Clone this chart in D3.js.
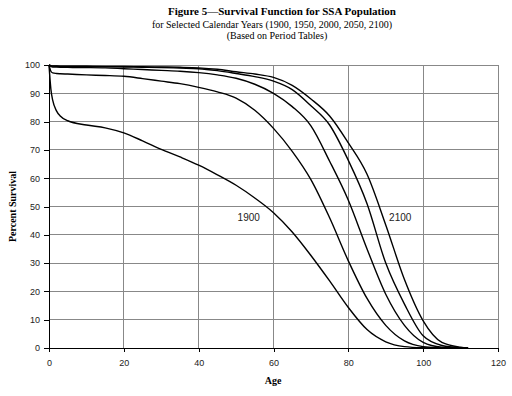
<!DOCTYPE html>
<html>
<head>
<meta charset="utf-8">
<script src="https://cdn.jsdelivr.net/npm/d3@7"></script>
<style>
   body { margin: 0; background: #fff; }
   svg { display: block; }
</style>
</head>
<body>
<div id="chart"></div>
<script>
// Ages sampled along the survival curves
const ages = [0, 0.5, 1, 2, 3, 5, 10, 15, 20, 25, 30, 35, 40, 45, 50, 55, 60, 65, 70, 75, 80, 85, 90, 95, 100, 105, 110, 112];

// Percent surviving at each age, one array per calendar year
const s1900 = [100, 91.5, 87.5, 83.8, 82, 80.3, 78.8, 77.8, 76, 73.2, 70.2, 67.5, 64.6, 61.2, 57.5, 53, 47.8, 41, 32.7, 23.7, 14.3, 6.5, 2.2, 0.5, 0.1, 0, 0, 0];
const s1950 = [100, 97.8, 97.2, 97, 96.9, 96.8, 96.5, 96.3, 96, 95.2, 94.3, 93.4, 92.1, 90.5, 88.3, 84, 77.6, 69.5, 59.5, 46, 30.8, 17.5, 8, 2.5, 0.5, 0.05, 0, 0];
const s2000 = [100, 99.5, 99.3, 99.25, 99.2, 99.15, 99.1, 99, 98.7, 98.4, 98.1, 97.8, 97.3, 96.5, 95.3, 93.2, 90, 85.3, 78.5, 66, 52.2, 35, 19, 8, 2, 0.3, 0, 0];
const s2050 = [100, 99.7, 99.6, 99.55, 99.5, 99.5, 99.45, 99.4, 99.3, 99.2, 99.1, 98.9, 98.7, 98, 97, 95.9, 94.3, 91.3, 85.6, 78.8, 66.3, 51, 30, 15.5, 4.3, 0.9, 0.1, 0];
const s2100 = [100, 99.8, 99.7, 99.65, 99.6, 99.6, 99.55, 99.5, 99.45, 99.4, 99.3, 99.2, 99, 98.5, 97.6, 96.8, 95.6, 92.8, 88, 82, 72.5, 61.4, 43.5, 24.2, 9.6, 2, 0.3, 0];

const years = ["1900", "1950", "2000", "2050", "2100"];
const seriesValues = [s1900, s1950, s2000, s2050, s2100];

// Tick labels
const xTicks = [0, 20, 40, 60, 80, 100, 120];
const yTicks = [0, 10, 20, 30, 40, 50, 60, 70, 80, 90, 100];

// Which curves carry a text label (age, percent where label sits)
const curveLabels = [
   { text: "1900", age: 50.4, pct: 44.9 },
   { text: "2100", age: 90.9, pct: 45 }
];

const width = 512, height = 396;
const margin = { top: 65, right: 14, bottom: 48, left: 49 };

const svg = d3.select("#chart").append("svg")
   .attr("width", width)
   .attr("height", height);

const x = d3.scaleLinear().domain([0, 120]).range([margin.left, width - margin.right]);
const y = d3.scaleLinear().domain([0, 100]).range([height - margin.bottom, margin.top]);

const serif = "'Liberation Serif', 'Times New Roman', serif";
const sans = "'Liberation Sans', Arial, sans-serif";

// Titles
const titles = svg.append("g").attr("font-family", serif).attr("fill", "#000").attr("text-anchor", "middle");
titles.append("text").attr("x", 282).attr("y", 15)
   .attr("font-size", 11).attr("font-weight", "bold")
   .text("Figure 5\u2014Survival Function for SSA Population");
titles.append("text").attr("x", 272).attr("y", 28)
   .attr("font-size", 10)
   .text("for Selected Calendar Years (1900, 1950, 2000, 2050, 2100)");
titles.append("text").attr("x", 277).attr("y", 39)
   .attr("font-size", 10)
   .text("(Based on Period Tables)");

// Grid
const grid = svg.append("g").attr("stroke", "#888").attr("stroke-width", 1).attr("shape-rendering", "crispEdges");
grid.selectAll(".gx").data(xTicks).join("line")
   .attr("x1", d => x(d)).attr("x2", d => x(d))
   .attr("y1", y(0)).attr("y2", y(100));
grid.selectAll(".gy").data(yTicks).join("line")
   .attr("x1", x(0)).attr("x2", x(120))
   .attr("y1", d => y(d)).attr("y2", d => y(d));

// Axes
const xAxis = svg.append("g")
   .attr("transform", `translate(0,${y(0)})`)
   .call(d3.axisBottom(x).tickValues(xTicks).tickSize(4).tickPadding(8).tickSizeOuter(0));
const yAxis = svg.append("g")
   .attr("transform", `translate(${x(0)},0)`)
   .call(d3.axisLeft(y).tickValues(yTicks).tickSize(5).tickPadding(4).tickSizeOuter(0));

[xAxis, yAxis].forEach(a => {
   a.attr("font-family", sans).attr("font-size", 9);
   a.selectAll("path, line").attr("stroke", "#000").attr("shape-rendering", "crispEdges");
   a.selectAll("text").attr("fill", "#222");
});

// Curves
const line = d3.line()
   .x((d, i) => x(ages[i]))
   .y(d => y(d))
   .curve(d3.curveMonotoneX);

svg.append("g")
   .attr("fill", "none")
   .attr("stroke", "#000")
   .attr("stroke-width", 1.4)
   .attr("stroke-linejoin", "round")
   .selectAll("path")
   .data(seriesValues)
   .join("path")
   .attr("d", d => line(d));

// Curve labels
svg.append("g")
   .attr("font-family", sans).attr("font-size", 10).attr("fill", "#222")
   .selectAll("text")
   .data(curveLabels)
   .join("text")
   .attr("x", d => x(d.age))
   .attr("y", d => y(d.pct))
   .text(d => d.text);

// Axis titles
svg.append("text")
   .attr("x", 273).attr("y", 384)
   .attr("text-anchor", "middle")
   .attr("font-family", serif).attr("font-size", 10).attr("font-weight", "bold")
   .text("Age");
svg.append("text")
   .attr("transform", `translate(16,${(y(0) + y(100)) / 2}) rotate(-90)`)
   .attr("text-anchor", "middle")
   .attr("font-family", serif).attr("font-size", 10).attr("font-weight", "bold")
   .text("Percent Survival");
</script>
</body>
</html>
